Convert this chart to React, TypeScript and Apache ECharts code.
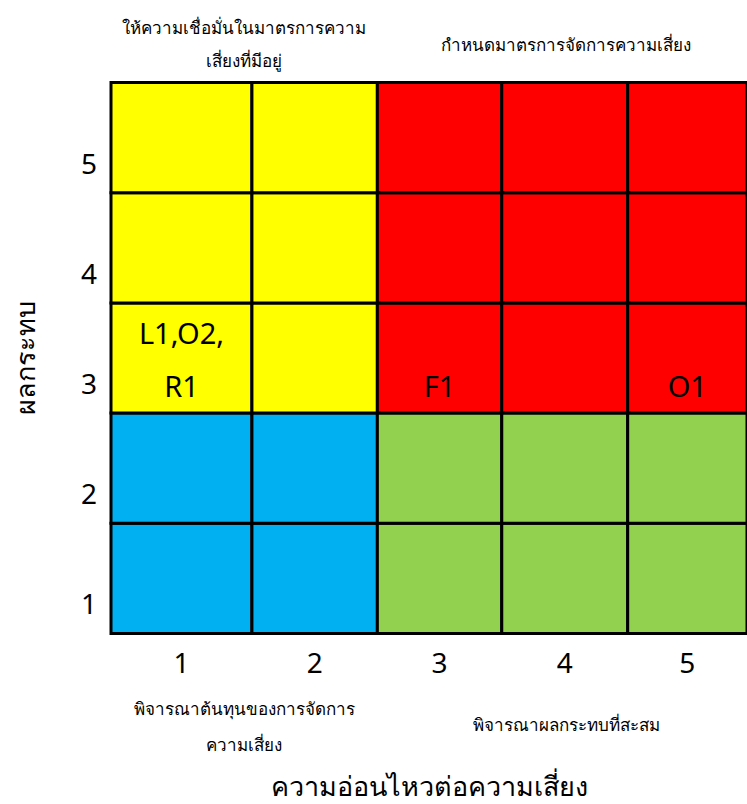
import React, { useEffect, useRef } from "react";
import * as echarts from "echarts";

// ---- data ----
const sensitivityLevels = ["1", "2", "3", "4", "5"]; // x tick labels
const impactLevels = ["1", "2", "3", "4", "5"]; // y tick labels
// zone of each cell, rows = impact 1..5 (bottom to top), columns = sensitivity 1..5
const zoneRows = [
  ["blue", "blue", "green", "green", "green"],
  ["blue", "blue", "green", "green", "green"],
  ["yellow", "yellow", "red", "red", "red"],
  ["yellow", "yellow", "red", "red", "red"],
  ["yellow", "yellow", "red", "red", "red"],
];
const riskNames = ["L1,O2,\nR1", "F1", "O1"];
const riskSensitivity = [1, 3, 5];
const riskImpact = [3, 3, 3];
const xAxisTitle = "ความอ่อนไหวต่อความเสี่ยง";
const yAxisTitle = "ผลกระทบ";
const noteTopLeft = "ให้ความเชื่อมั่นในมาตรการความ\nเสี่ยงที่มีอยู่";
const noteTopRight = "กำหนดมาตรการจัดการความเสี่ยง";
const noteBottomLeft = "พิจารณาต้นทุนของการจัดการ\nความเสี่ยง";
const noteBottomRight = "พิจารณาผลกระทบที่สะสม";

// ---- layout / style ----
const COL_EDGES = [0, 1.108, 2.094, 3.072, 4.062, 5];
const ZONE_COLORS: Record<string, string> = {
  yellow: "#FFFF00",
  red: "#FF0000",
  blue: "#00B0F0",
  green: "#92D050",
};
const FONT = "'Noto Sans', 'DejaVu Sans', sans-serif";

const colCenter = (c: number) => (COL_EDGES[c - 1] + COL_EDGES[c]) / 2;

const noteStyle = (text: string, lineHeight: number) => ({
  text,
  align: "center",
  verticalAlign: "middle",
  fontSize: 17,
  lineHeight,
  fill: "#000",
  fontFamily: FONT,
});

export default function App() {
  const ref = useRef<HTMLDivElement>(null);
  useEffect(() => {
    document.body.style.margin = "0";
    const chart = echarts.init(ref.current!, undefined, { renderer: "svg" });

    const cells: { value: number[]; zone: string }[] = [];
    zoneRows.forEach((row, ri) =>
      row.forEach((zone, ci) => cells.push({ value: [ci + 1, ri + 1], zone }))
    );

    const risks = riskNames.map((n, i) => ({
      name: n,
      value: [colCenter(riskSensitivity[i]), riskImpact[i]],
    }));

    const xCenters = sensitivityLevels.map((_, i) => colCenter(i + 1));

    chart.setOption({
      animation: false,
      textStyle: { fontFamily: FONT },
      grid: { left: 111, right: -3, top: 82.5, bottom: 168 },
      xAxis: {
        type: "value",
        min: COL_EDGES[0],
        max: COL_EDGES[COL_EDGES.length - 1],
        axisLine: { show: false },
        axisTick: { show: false },
        splitLine: { show: false },
        axisLabel: {
          customValues: xCenters,
          formatter: (v: number) => {
            const i = xCenters.findIndex((c) => Math.abs(c - v) < 1e-6);
            return i >= 0 ? sensitivityLevels[i] : "";
          },
          fontSize: 28,
          color: "#000",
          fontFamily: FONT,
          margin: 14,
        },
        name: xAxisTitle,
        nameLocation: "middle",
        nameGap: 152,
        nameTextStyle: {
          fontSize: 27,
          color: "#000",
          fontFamily: FONT,
          verticalAlign: "middle",
        },
      },
      yAxis: {
        type: "value",
        min: 0.5,
        max: 5.5,
        axisLine: { show: false },
        axisTick: { show: false },
        splitLine: { show: false },
        axisLabel: {
          customValues: [1, 2, 3, 4, 5],
          formatter: (v: number) => impactLevels[Math.round(v) - 1] ?? "",
          fontSize: 28,
          color: "#000",
          fontFamily: FONT,
          margin: 14,
          verticalAlign: "top",
          lineHeight: 50,
        },
        name: yAxisTitle,
        nameLocation: "middle",
        nameGap: 87,
        nameRotate: 90,
        nameTextStyle: {
          fontSize: 27,
          color: "#000",
          fontFamily: FONT,
          verticalAlign: "middle",
        },
      },
      series: [
        {
          type: "custom",
          data: cells,
          encode: { x: 0, y: 1 },
          renderItem: (params: any, api: any) => {
            const c = api.value(0);
            const r = api.value(1);
            const p0 = api.coord([COL_EDGES[c - 1], r - 0.5]);
            const p1 = api.coord([COL_EDGES[c], r + 0.5]);
            return {
              type: "rect",
              shape: {
                x: p0[0],
                y: p1[1],
                width: p1[0] - p0[0],
                height: p0[1] - p1[1],
              },
              style: {
                fill: ZONE_COLORS[cells[params.dataIndex].zone],
                stroke: "#000",
                lineWidth: 3,
              },
            };
          },
          z: 1,
        },
        {
          type: "scatter",
          data: risks,
          symbolSize: 0,
          z: 5,
          itemStyle: { opacity: 1 },
          label: {
            show: true,
            position: "inside",
            formatter: (p: any) => p.name,
            fontSize: 29,
            color: "#000",
            opacity: 1,
            fontFamily: FONT,
            verticalAlign: "bottom",
            lineHeight: 53,
            offset: [0, 53.5],
          },
        },
      ],
      graphic: [
        { type: "text", x: 244, y: 43.5, style: noteStyle(noteTopLeft, 33) },
        { type: "text", x: 566, y: 44, style: noteStyle(noteTopRight, 33) },
        { type: "text", x: 244, y: 726, style: noteStyle(noteBottomLeft, 36) },
        { type: "text", x: 566, y: 724, style: noteStyle(noteBottomRight, 33) },
      ],
    });
    return () => chart.dispose();
  }, []);
  return <div ref={ref} style={{ width: 747, height: 804 }} />;
}
